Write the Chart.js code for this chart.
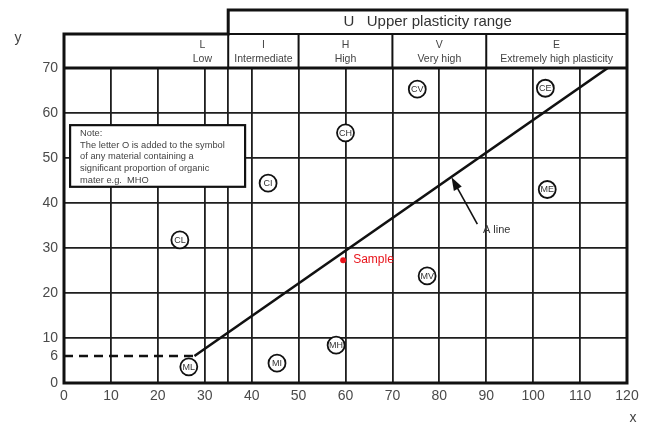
<!DOCTYPE html>
<html>
<head>
<meta charset="utf-8">
<script src="https://cdn.jsdelivr.net/npm/chart.js@4/dist/chart.umd.min.js"></script>
<style>
    html, body { margin: 0; padding: 0; background: #fff; }
    #wrap { width: 649px; height: 426px; position: relative; }
</style>
</head>
<body>
<div id="wrap"><canvas id="plasticity"></canvas></div>
<script>
"use strict";

// axis ticks
const xTicks = [0, 10, 20, 30, 35, 40, 50, 60, 70, 80, 90, 100, 110, 120];
const yTicks = [0, 6, 10, 20, 30, 40, 50, 60, 70];

// plasticity bands along the liquid limit axis
const bandEdges = [0, 35, 50, 70, 90, 120];
const bandCodes = ["L", "I", "H", "V", "E"];
const bandNames = ["Low", "Intermediate", "High", "Very high", "Extremely high plasticity"];
const bandLabelX = [29.5, 42.5, 60, 80, 105];

// A line and its dashed continuation at PI = 6
const aLineX = [27.8, 115.9];
const aLineY = [6, 70];
const dashX = [0, 27.8];
const dashY = [6, 6];

// soil group symbols
const zoneCodes = ["CL", "CI", "CH", "CV", "CE", "ML", "MI", "MH", "MV", "ME"];
const zoneX = [24.7, 43.5, 60, 75.3, 102.6, 26.6, 45.4, 58, 77.4, 103];
const zoneY = [31.8, 44.4, 55.6, 65.3, 65.5, 3.6, 4.4, 8.4, 23.8, 43];

// tested sample
const sampleX = [59.5];
const sampleY = [27.3];

const noteLines = [
    "Note:",
    "The letter O is added to the symbol",
    "of any material containing a",
    "significant proportion of organic",
    "mater e.g.  MHO"
];

const FONT = "'Liberation Sans', Arial, sans-serif";

function pts(xs, ys) {
    return xs.map(function (x, i) { return { x: x, y: ys[i] }; });
}

function arrow(ctx, x1, y1, x2, y2) {
    let a = Math.atan2(y2 - y1, x2 - x1);
    ctx.beginPath();
    ctx.moveTo(x1, y1);
    ctx.lineTo(x2 - 8 * Math.cos(a), y2 - 8 * Math.sin(a));
    ctx.stroke();
    ctx.beginPath();
    ctx.moveTo(x2, y2);
    ctx.lineTo(x2 - 13 * Math.cos(a) + 4.5 * Math.sin(a), y2 - 13 * Math.sin(a) - 4.5 * Math.cos(a));
    ctx.lineTo(x2 - 13 * Math.cos(a) - 4.5 * Math.sin(a), y2 - 13 * Math.sin(a) + 4.5 * Math.cos(a));
    ctx.closePath();
    ctx.fill();
}

// note box sits on the grid, under the datasets
const noteBox = {
    id: "noteBox",
    beforeDatasetsDraw(chart) {
        let ctx = chart.ctx, sx = chart.scales.x, sy = chart.scales.y;
        let l = sx.getPixelForValue(1.3), r = sx.getPixelForValue(38.6);
        let t = sy.getPixelForValue(57.3), b = sy.getPixelForValue(43.6);
        ctx.save();
        ctx.fillStyle = "#fff";
        ctx.fillRect(l, t, r - l, b - t);
        ctx.strokeStyle = "#111";
        ctx.lineWidth = 2.2;
        ctx.strokeRect(l, t, r - l, b - t);
        ctx.fillStyle = "#444";
        ctx.font = "9.3px " + FONT;
        ctx.textBaseline = "middle";
        noteLines.forEach(function (line, i) {
            ctx.fillText(line, l + 10, t + 8 + i * 11.8);
        });
        ctx.restore();
    }
};

// frame, header bands and annotations
const frame = {
    id: "frame",
    afterDatasetsDraw(chart) {
        let ctx = chart.ctx, area = chart.chartArea;
        let sx = chart.scales.x, sy = chart.scales.y;
        let headTop = area.top - 34, uTop = area.top - 58;
        let x35 = sx.getPixelForValue(35);
        ctx.save();

        // symbol labels inside the circles
        ctx.fillStyle = "#333";
        ctx.font = "9px " + FONT;
        ctx.textAlign = "center";
        ctx.textBaseline = "middle";
        zoneCodes.forEach(function (c, i) {
            ctx.fillText(c, sx.getPixelForValue(zoneX[i]), sy.getPixelForValue(zoneY[i]) + 0.5);
        });

        // sample label
        ctx.fillStyle = "#e8141b";
        ctx.font = "12px " + FONT;
        ctx.textAlign = "left";
        ctx.fillText("Sample", sx.getPixelForValue(sampleX[0]) + 10, sy.getPixelForValue(sampleY[0]));

        // A line callout
        ctx.fillStyle = "#333";
        ctx.font = "11px " + FONT;
        ctx.fillText("A line", sx.getPixelForValue(89.3), sy.getPixelForValue(34));
        ctx.strokeStyle = "#111";
        ctx.fillStyle = "#111";
        ctx.lineWidth = 1.6;
        arrow(ctx, sx.getPixelForValue(88.1), sy.getPixelForValue(35.3), sx.getPixelForValue(82.6), sy.getPixelForValue(45.7));

        // header rows
        ctx.fillStyle = "#fff";
        ctx.fillRect(area.left, headTop, area.right - area.left, area.top - headTop);
        ctx.strokeStyle = "#111";
        ctx.lineWidth = 2;
        ctx.beginPath();
        bandEdges.slice(1, -1).forEach(function (v) {
            let p = sx.getPixelForValue(v);
            ctx.moveTo(p, headTop);
            ctx.lineTo(p, area.top);
        });
        ctx.stroke();
        ctx.fillStyle = "#444";
        ctx.font = "10.5px " + FONT;
        ctx.textAlign = "center";
        bandCodes.forEach(function (c, i) {
            let p = sx.getPixelForValue(bandLabelX[i]);
            ctx.fillText(c, p, headTop + 11);
            ctx.fillText(bandNames[i], p, headTop + 25);
        });

        // upper plasticity range box
        ctx.fillStyle = "#333";
        ctx.font = "15px " + FONT;
        ctx.fillText("U   Upper plasticity range", (x35 + area.right) / 2, uTop + 12);

        // heavy outline
        ctx.lineWidth = 3;
        ctx.lineJoin = "miter";
        ctx.beginPath();
        ctx.moveTo(area.left, area.bottom);
        ctx.lineTo(area.left, headTop);
        ctx.lineTo(x35, headTop);
        ctx.lineTo(x35, uTop);
        ctx.lineTo(area.right, uTop);
        ctx.lineTo(area.right, area.bottom);
        ctx.closePath();
        ctx.moveTo(area.left, area.top);
        ctx.lineTo(area.right, area.top);
        ctx.stroke();
        ctx.lineWidth = 2;
        ctx.beginPath();
        ctx.moveTo(x35, headTop);
        ctx.lineTo(area.right, headTop);
        ctx.stroke();

        // axis letters
        ctx.fillStyle = "#444";
        ctx.font = "14px " + FONT;
        ctx.fillText("y", 18, area.top - 30);
        ctx.fillText("x", 633, 418);
        ctx.restore();
    }
};

const gridColor = function (c) {
    return c.tick && c.tick.value === 6 ? "rgba(0,0,0,0)" : "#1e1e1e";
};

new Chart(document.getElementById("plasticity"), {
    type: "scatter",
    data: {
        datasets: [
            {
                data: pts(aLineX, aLineY),
                showLine: true,
                borderColor: "#111",
                borderWidth: 2.6,
                pointRadius: 0
            },
            {
                data: pts(dashX, dashY),
                showLine: true,
                borderColor: "#111",
                borderWidth: 2.6,
                borderDash: [9, 6],
                pointRadius: 0
            },
            {
                data: pts(zoneX, zoneY),
                pointRadius: 8.5,
                backgroundColor: "#fff",
                borderColor: "#111",
                borderWidth: 1.8
            },
            {
                data: pts(sampleX, sampleY),
                pointRadius: 3,
                backgroundColor: "#e8141b",
                borderColor: "#e8141b",
                borderWidth: 0
            }
        ]
    },
    options: {
        responsive: true,
        maintainAspectRatio: false,
        animation: false,
        layout: { padding: { top: 68, right: 22, bottom: 0, left: 0 } },
        plugins: { legend: { display: false }, tooltip: { enabled: false } },
        scales: {
            x: {
                type: "linear",
                min: 0,
                max: 120,
                afterBuildTicks: function (scale) {
                    scale.ticks = xTicks.map(function (v) { return { value: v }; });
                },
                afterFit: function (scale) { scale.height = 43; },
                ticks: {
                    autoSkip: false,
                    maxRotation: 0,
                    padding: 5,
                    color: "#4a4a4a",
                    font: { family: FONT, size: 14 },
                    callback: function (v) { return v === 35 ? "" : v; }
                },
                grid: { color: gridColor, lineWidth: 1.8, drawTicks: false },
                border: { display: false }
            },
            y: {
                type: "linear",
                min: 0,
                max: 70,
                afterBuildTicks: function (scale) {
                    scale.ticks = yTicks.map(function (v) { return { value: v }; });
                },
                afterFit: function (scale) { scale.width = 64; },
                ticks: {
                    autoSkip: false,
                    padding: 6,
                    color: "#4a4a4a",
                    font: { family: FONT, size: 14 }
                },
                grid: { color: gridColor, lineWidth: 1.8, drawTicks: false },
                border: { display: false }
            }
        }
    },
    plugins: [noteBox, frame]
});
</script>
</body>
</html>
